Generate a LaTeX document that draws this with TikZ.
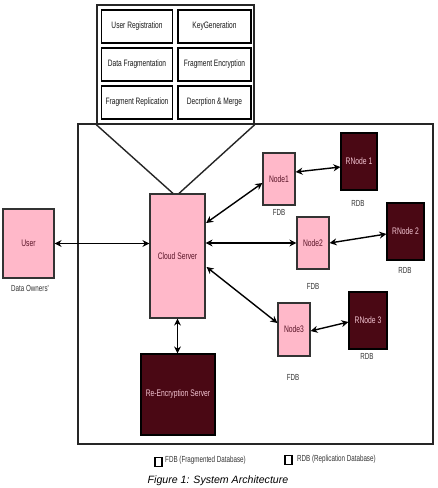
\documentclass[tikz,border=0pt]{standalone}
\usepackage{fontspec}
\setmainfont{Liberation Sans}
\newfontfamily\cond[FakeStretch=0.71]{Liberation Sans}
\usetikzlibrary{arrows.meta,calc}
\definecolor{pinkfill}{HTML}{FFB8C9}
\definecolor{maroon}{HTML}{4A0814}
\definecolor{pinktext}{HTML}{5A1528}
\definecolor{lighttext}{HTML}{F3C4D2}
\tikzset{
  mod/.style={draw=black,line width=1.4pt,fill=white,inner sep=0pt,font=\cond\fontsize{9.3}{10}\selectfont,text=black!90},
  pbox/.style={draw=black!80,line width=1.2pt,fill=pinkfill,inner sep=0pt,font=\cond\fontsize{9.5}{10}\selectfont,text=pinktext},
  dbox/.style={draw=black,line width=1.2pt,fill=maroon,inner sep=0pt,font=\cond\fontsize{9.5}{10}\selectfont,text=lighttext},
  lbl/.style={font=\cond\fontsize{8.8}{9}\selectfont,text=black!80,inner sep=0pt},
  arr/.style={line width=1.4pt,{Stealth[length=7pt,width=7pt]}-{Stealth[length=7pt,width=7pt]}},
  frame/.style={draw=black!85,line width=1.4pt,inner sep=0pt}
}
\begin{document}
\begin{tikzpicture}[x=1pt,y=-1pt]
\path[use as bounding box,fill=white] (0,0) rectangle (438,488);
% main system box
\node[frame,minimum width=355pt,minimum height=320pt] (sys) at (255.5,284) {};
% modules box
\node[frame,fill=white,minimum width=157pt,minimum height=119pt] (mods) at (175.5,64.5) {};
\node[mod,minimum width=71pt,minimum height=33pt] (m1) at (137,26.5) {User Registration};
\node[mod,minimum width=73pt,minimum height=33pt] (m2) at (214.5,26.5) {KeyGeneration};
\node[mod,minimum width=71pt,minimum height=33pt] (m3) at (137,64.5) {Data Fragmentation};
\node[mod,minimum width=73pt,minimum height=33pt] (m4) at (214.5,64.5) {Fragment Encryption};
\node[mod,minimum width=71pt,minimum height=33pt] (m5) at (137,102.5) {Fragment Replication};
\node[mod,minimum width=73pt,minimum height=33pt] (m6) at (214.5,102.5) {Decrption \& Merge};
% nodes
\node[pbox,minimum width=55pt,minimum height=124pt] (cloud) at (177.5,256) {Cloud Server};
\node[pbox,minimum width=51pt,minimum height=69pt] (user) at (28.5,243.5) {User};
\node[lbl,anchor=north] (own) at (30,285) {Data Owners'};
\node[dbox,minimum width=74pt,minimum height=81pt] (reenc) at (178,394.5) {Re-Encryption Server};
\node[pbox,minimum width=32pt,minimum height=52pt] (n1) at (279,179) {Node1};
\node[dbox,minimum width=36pt,minimum height=57pt] (r1) at (359,161.5) {RNode 1};
\node[pbox,minimum width=32pt,minimum height=52pt] (n2) at (313,243) {Node2};
\node[dbox,minimum width=37pt,minimum height=57pt] (r2) at (405.5,231.5) {RNode 2};
\node[pbox,minimum width=32pt,minimum height=53pt] (n3) at (294,329.5) {Node3};
\node[dbox,minimum width=38pt,minimum height=57pt] (r3) at (368,320.5) {RNode 3};
% db labels
\node[lbl] (f1) at (279,212) {FDB};
\node[lbl] (d1) at (358,203) {RDB};
\node[lbl] (f2) at (313,286) {FDB};
\node[lbl] (d2) at (405,270) {RDB};
\node[lbl] (f3) at (293,377) {FDB};
\node[lbl] (d3) at (367,356) {RDB};
% funnel
\draw[line width=1.4pt,black!85] (mods.south west) -- ($(cloud.north)+(-4.5,0)$);
\draw[line width=1.4pt,black!85] (mods.south east) -- ($(cloud.north)+(1.5,0)$);
% arrows
\draw[arr] (user.east) -- (user.east -| cloud.west);
\draw[arr] ($(cloud.east)+(0.5,-33)$) -- ($(n1.west)+(0,4)$);
\draw[arr] (cloud.east |- n2.west) -- (n2.west);
\draw[arr] ($(cloud.east)+(1,11)$) -- ($(n3.west)+(0,-6.5)$);
\draw[arr] ($(n1.east)+(0,-7)$) -- ($(r1.west)+(0,5.5)$);
\draw[arr] (n2.east) -- ($(r2.west)+(0,2.5)$);
\draw[arr] ($(n3.east)+(0,1.5)$) -- ($(r3.west)+(0,1.5)$);
\draw[arr] (cloud.south) -- (reenc.north -| cloud.south);
% legend
\node[draw=black,line width=1.1pt,minimum width=7pt,minimum height=9pt,inner sep=0pt] (sq1) at (158.5,462) {};
\node[lbl,anchor=west] (t1) at (165,460) {FDB (Fragmented Database)};
\node[draw=black,line width=1.1pt,minimum width=7pt,minimum height=9pt,inner sep=0pt] (sq2) at (288.5,460) {};
\node[lbl,anchor=west] (t2) at (297,459) {RDB (Replication Database)};
% caption
\node[font=\itshape\fontsize{10.6}{12}\selectfont,inner sep=0pt] (cap) at (218,481) {Figure 1: System Architecture};
\end{tikzpicture}
\end{document}
